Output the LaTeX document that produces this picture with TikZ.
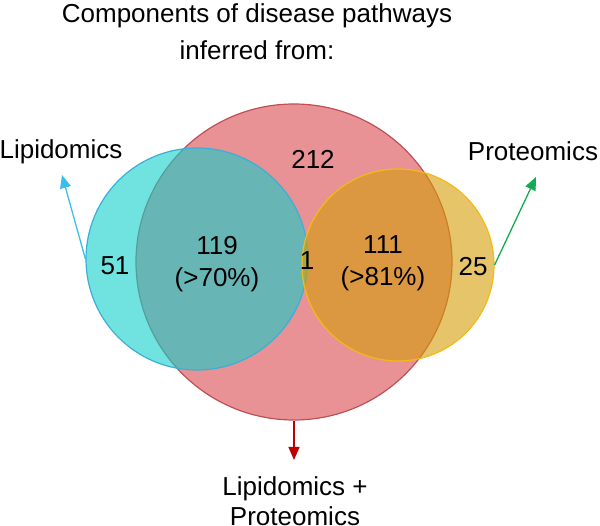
\documentclass[tikz,border=0pt]{standalone}
\usepackage{fontspec}
\setmainfont{Liberation Sans}
\usepackage{tikz}
\usepackage{xcolor}
\usetikzlibrary{arrows.meta,positioning}

\definecolor{lipfill}{RGB}{17,207,203}
\definecolor{lipline}{RGB}{60,175,215}
\definecolor{jointfill}{RGB}{232,146,150}
\definecolor{jointline}{RGB}{190,80,85}
\definecolor{protfill}{RGB}{213,157,7}
\definecolor{protline}{RGB}{245,185,20}
\definecolor{liparrow}{RGB}{60,190,235}
\definecolor{protarrow}{RGB}{20,170,80}
\definecolor{jointarrow}{RGB}{192,0,0}

\begin{document}
\begin{tikzpicture}[x=1pt, y=-1pt,
    venn/.style={circle, inner sep=0pt, line width=1.2pt},
    txt/.style={font=\fontsize{26}{32}\selectfont, align=center, inner sep=0pt},
    pointer/.style={-{Triangle[length=13pt,width=11pt]}, line width=1.3pt}]
    \useasboundingbox (0,0) rectangle (600,526);

    % Title
    \node[txt, font=\fontsize{26}{37}\selectfont] (title) at (257,32) {Components of disease pathways\\inferred from:};

    % Circles
    \node[venn, draw=jointline, fill=jointfill, minimum size=316pt] (joint) at (294,262) {};
    \node[venn, draw=lipline, fill=lipfill, fill opacity=0.6, minimum size=222pt] (lipid) at (197,259) {};
    \node[venn, draw=protline, fill=protfill, fill opacity=0.6, minimum size=192pt] (prot) at (398,265) {};

    % Counts
    \node[txt] (n212) at (313,159) {212};
    \node[txt] (n51) at (115,266) {51};
    \node[txt] (n119) at (217,264) {119\\(>70\%)};
    \node[txt] (n1) at (307,261) {1};
    \node[txt] (n111) at (383,263) {111\\(>81\%)};
    \node[txt] (n25) at (473,267) {25};

    % Labels
    \node[txt] (liplabel) at (61,152) {Lipidomics};
    \node[txt] (protlabel) at (533,151) {Proteomics};
    \node[txt, font=\fontsize{26}{30}\selectfont] (jointlabel) at (295,501) {Lipidomics +\\Proteomics};

    % Arrows
    \coordinate (liptip) at (62,175);
    \coordinate (prottip) at (536,177);
    \coordinate (jointtip) at (294,460);
    \draw[pointer, liparrow] (lipid.west) -- (liptip);
    \draw[pointer, protarrow] (prot.east) -- (prottip);
    \draw[pointer, jointarrow] (joint.south) -- (jointtip);
\end{tikzpicture}
\end{document}
